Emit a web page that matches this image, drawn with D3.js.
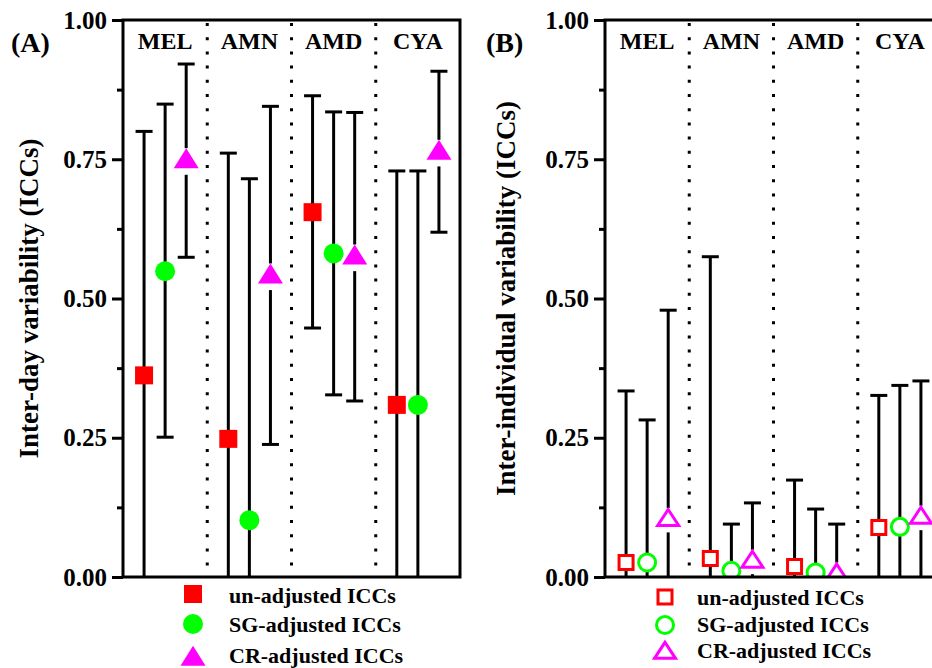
<!DOCTYPE html>
<html>
<head>
<meta charset="utf-8">
<script src="https://cdn.jsdelivr.net/npm/d3@7/dist/d3.min.js"></script>
<style>
  html, body { margin: 0; padding: 0; background: #fff; }
  svg { display: block; }
  svg text { font-family: "Liberation Serif", "Times New Roman", Times, "DejaVu Serif", "Noto Serif", serif !important; font-weight: bold; fill: #000; }
</style>
</head>
<body>
<svg id="chart" width="932" height="668"></svg>
<script>
// ---------- data ----------
const categories = ["MEL", "AMN", "AMD", "CYA"];
const seriesNames = ["un-adjusted ICCs", "SG-adjusted ICCs", "CR-adjusted ICCs"];
const seriesColors = ["#FF0000", "#00FF00", "#FF00FF"];
const yTicks = [0, 0.25, 0.5, 0.75, 1.0];
const yMinorTicks = [0.125, 0.375, 0.625, 0.875];

// Panel A: inter-day variability
const aUnadj     = [0.362, 0.248, 0.655, 0.309];
const aUnadjLow  = [0.000, 0.000, 0.447, 0.000];
const aUnadjHigh = [0.800, 0.761, 0.864, 0.729];
const aSG        = [0.549, 0.102, 0.581, 0.309];
const aSGLow     = [0.251, 0.000, 0.327, 0.000];
const aSGHigh    = [0.849, 0.715, 0.835, 0.729];
const aCR        = [0.746, 0.539, 0.573, 0.761];
const aCRLow     = [0.574, 0.238, 0.316, 0.619];
const aCRHigh    = [0.921, 0.845, 0.834, 0.908];

// Panel B: inter-individual variability
const bUnadj     = [0.026, 0.033, 0.019, 0.089];
const bUnadjLow  = [0.000, 0.000, 0.000, 0.000];
const bUnadjHigh = [0.334, 0.575, 0.174, 0.326];
const bSG        = [0.026, 0.011, 0.008, 0.090];
const bSGLow     = [0.000, 0.000, 0.000, 0.000];
const bSGHigh    = [0.282, 0.095, 0.122, 0.344];
const bCR        = [0.102, 0.027, 0.004, 0.106];
const bCRLow     = [0.000, 0.000, 0.000, 0.000];
const bCRHigh    = [0.479, 0.133, 0.095, 0.352];

// ---------- helpers ----------
const svg = d3.select("#chart");
const FONT = '"Liberation Serif", "Times New Roman", Times, "DejaVu Serif", serif';

function buildRows(vals, lows, highs) {
  const rows = [];
  for (let s = 0; s < 3; s++) {
    for (let c = 0; c < categories.length; c++) {
      rows.push({ s, c, v: vals[s][c], lo: lows[s][c], hi: highs[s][c] });
    }
  }
  return rows;
}

// marker shapes; triangles are centred on their centroid (as in Origin)
function markerPath(s, filled) {
  if (s === 0) {
    const h = filled ? 9 : 7;
    return `M${-h},${-h}H${h}V${h}H${-h}Z`;
  } else if (s === 1) {
    const r = filled ? 10 : 8.5;
    return `M${r},0A${r},${r} 0 1,1 ${-r},0A${r},${r} 0 1,1 ${r},0Z`;
  } else {
    const w = filled ? 12.5 : 10.5, h = filled ? 20 : 16;
    return `M0,${-2 * h / 3}L${w},${h / 3}L${-w},${h / 3}Z`;
  }
}
// radius of the symbol's bounding circle: error bars start outside it
function markerGap(s, filled) {
  if (s === 2) return filled ? 13.3 : 12.2;
  return 0;
}

function drawPanel(opt) {
  const g = svg.append("g").attr("font-family", FONT).attr("font-weight", "bold");
  const x = d3.scaleLinear().domain([0, 16]).range([opt.x0, opt.x1]);
  const y = d3.scaleLinear().domain([0, 1]).range([577, 20]);
  const clipId = "clip" + opt.id;
  svg.append("clipPath").attr("id", clipId)
    .append("rect").attr("x", x(0)).attr("y", y(1)).attr("width", x(16) - x(0)).attr("height", y(0) - y(1));

  // separators
  g.selectAll(".sep").data([4, 8, 12]).enter().append("line")
    .attr("x1", d => x(d)).attr("x2", d => x(d))
    .attr("y1", y(1) + 3).attr("y2", y(0))
    .attr("stroke", "#000").attr("stroke-width", 3)
    .attr("stroke-dasharray", "3,11.2");

  // category labels
  g.selectAll(".cat").data(categories).enter().append("text")
    .attr("x", (d, i) => x(i * 4 + 2))
    .attr("y", 49)
    .attr("text-anchor", "middle")
    .attr("font-size", 24)
    .text(d => d);

  const marks = g.append("g").attr("clip-path", `url(#${clipId})`);
  const rows = opt.rows;
  const px = d => x(d.c * 4 + 1 + d.s);
  const gap = d => markerGap(d.s, opt.filled);

  // error bars (upper and lower segments, interrupted at the symbol)
  marks.selectAll(".ebHi").data(rows).enter().append("line")
    .attr("x1", px).attr("x2", px)
    .attr("y1", d => y(d.hi)).attr("y2", d => y(d.v) - gap(d))
    .attr("stroke", "#000").attr("stroke-width", 3);
  marks.selectAll(".ebLo").data(rows.filter(d => y(d.lo) > y(d.v) + gap(d))).enter().append("line")
    .attr("x1", px).attr("x2", px)
    .attr("y1", d => y(d.v) + gap(d)).attr("y2", d => y(d.lo))
    .attr("stroke", "#000").attr("stroke-width", 3);
  marks.selectAll(".capHi").data(rows).enter().append("line")
    .attr("x1", d => px(d) - 8.5).attr("x2", d => px(d) + 8.5)
    .attr("y1", d => y(d.hi)).attr("y2", d => y(d.hi))
    .attr("stroke", "#000").attr("stroke-width", 3);
  marks.selectAll(".capLo").data(rows.filter(d => d.lo > 0)).enter().append("line")
    .attr("x1", d => px(d) - 8.5).attr("x2", d => px(d) + 8.5)
    .attr("y1", d => y(d.lo)).attr("y2", d => y(d.lo))
    .attr("stroke", "#000").attr("stroke-width", 3);

  // markers
  marks.selectAll(".mk").data(rows).enter().append("path")
    .attr("transform", d => `translate(${px(d)},${y(d.v)})`)
    .attr("d", d => markerPath(d.s, opt.filled))
    .attr("fill", d => opt.filled ? seriesColors[d.s] : "#fff")
    .attr("stroke", d => opt.filled ? "none" : seriesColors[d.s])
    .attr("stroke-width", opt.filled ? 0 : 3)
    .attr("stroke-linejoin", "miter");

  // frame
  g.append("rect")
    .attr("x", x(0)).attr("y", y(1))
    .attr("width", x(16) - x(0)).attr("height", y(0) - y(1))
    .attr("fill", "none").attr("stroke", "#000").attr("stroke-width", 3);

  // y axis
  const axis = d3.axisLeft(y).tickValues(yTicks).tickFormat(d3.format(".2f"))
    .tickSize(11).tickPadding(5);
  const ag = g.append("g").attr("transform", `translate(${x(0)},0)`).call(axis)
    .attr("font-family", FONT).attr("font-size", 25);
  ag.select(".domain").remove();
  ag.selectAll(".tick line").attr("stroke", "#000").attr("stroke-width", 3);
  ag.selectAll(".tick text").attr("font-size", 25).attr("font-family", FONT)
    .attr("font-weight", "bold").attr("fill", "#000");
  const minor = d3.axisLeft(y).tickValues(yMinorTicks).tickSize(6).tickFormat("");
  const mg = g.append("g").attr("transform", `translate(${x(0)},0)`).call(minor);
  mg.select(".domain").remove();
  mg.selectAll(".tick line").attr("stroke", "#000").attr("stroke-width", 3);

  // axis title
  g.append("text")
    .attr("transform", `translate(${opt.titleX},${(y(0) + y(1)) / 2}) rotate(-90)`)
    .attr("text-anchor", "middle")
    .attr("font-size", 27)
    .text(opt.title);

  // panel label
  g.append("text").attr("x", opt.labelX).attr("y", 52).attr("font-size", 28).text(opt.label);

  // legend
  const lg = g.append("g");
  seriesNames.forEach((name, s) => {
    lg.append("path")
      .attr("transform", `translate(${opt.legMarkX},${opt.legMarkY[s] + (s === 2 ? 3 : 0)})`)
      .attr("d", markerPath(s, opt.filled))
      .attr("fill", opt.filled ? seriesColors[s] : "#fff")
      .attr("stroke", opt.filled ? "none" : seriesColors[s])
      .attr("stroke-width", opt.filled ? 0 : 3);
    lg.append("text")
      .attr("x", opt.legTextX).attr("y", opt.legTextY[s])
      .attr("font-size", 22)
      .text(name);
  });
}

drawPanel({
  id: "A", x0: 123, x1: 460, filled: true,
  rows: buildRows([aUnadj, aSG, aCR], [aUnadjLow, aSGLow, aCRLow], [aUnadjHigh, aSGHigh, aCRHigh]),
  title: "Inter-day variability (ICCs)", titleX: 38,
  label: "(A)", labelX: 11,
  legMarkX: 193, legMarkY: [594, 624, 656], legTextX: 229, legTextY: [603, 632, 663]
});

drawPanel({
  id: "B", x0: 605, x1: 942, filled: false,
  rows: buildRows([bUnadj, bSG, bCR], [bUnadjLow, bSGLow, bCRLow], [bUnadjHigh, bSGHigh, bCRHigh]),
  title: "Inter-individual variability (ICCs)", titleX: 515,
  label: "(B)", labelX: 486,
  legMarkX: 665, legMarkY: [597, 625, 650], legTextX: 697, legTextY: [605, 632, 658]
});
</script>
</body>
</html>
